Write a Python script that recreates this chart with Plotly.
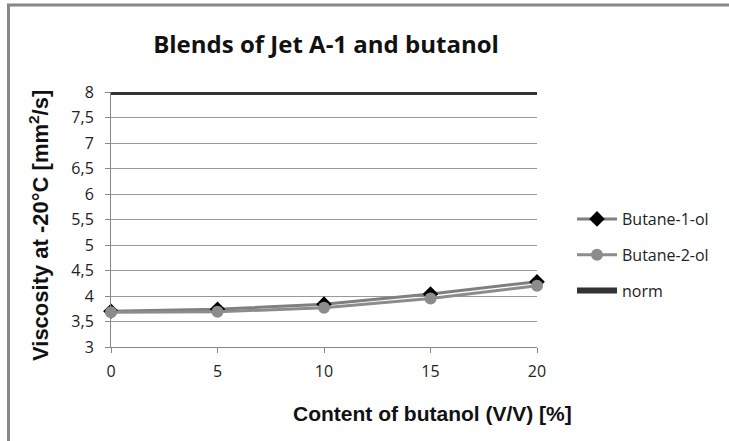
import plotly.graph_objects as go

content = [0, 5, 10, 15, 20]
butane_1_ol = [3.70, 3.74, 3.84, 4.04, 4.28]
butane_2_ol = [3.68, 3.69, 3.77, 3.95, 4.20]
norm = [8, 8, 8, 8, 8]
y_ticks = [3, 3.5, 4, 4.5, 5, 5.5, 6, 6.5, 7, 7.5, 8]
y_tick_labels = ["3", "3,5", "4", "4,5", "5", "5,5", "6", "6,5", "7", "7,5", "8"]

fig = go.Figure()
fig.add_trace(go.Scatter(
    x=content, y=butane_1_ol, name="Butane-1-ol", mode="lines+markers",
    line=dict(color="#7f7f7f", width=3),
    marker=dict(symbol="diamond", size=12, color="#000000"),
    legendgroup="a", cliponaxis=False))
fig.add_trace(go.Scatter(
    x=content, y=butane_2_ol, name="Butane-2-ol", mode="lines+markers",
    line=dict(color="#8c8c8c", width=3),
    marker=dict(symbol="circle", size=12, color="#8c8c8c"),
    legendgroup="b", cliponaxis=False))
fig.add_trace(go.Scatter(
    x=content, y=norm, name="norm", mode="lines",
    line=dict(color="#333333", width=6),
    legendgroup="c", cliponaxis=False))

L, R, T, B = 111, 537, 92, 347
W, H = R - L, B - T

def px(x):
    return (x - L) / W

def py(y):
    return (B - y) / H

fig.add_shape(type="rect", xref="paper", yref="paper",
              x0=px(8.5), x1=px(760), y0=py(5), y1=py(470),
              line=dict(color="#888888", width=3), layer="below")

fig.add_annotation(text="<b>Content of butanol (V/V) [%]</b>", xref="paper", yref="paper",
                   x=px(432), y=py(413), xanchor="center", yanchor="middle", showarrow=False,
                   font=dict(family="Liberation Sans", size=21, color="#111111"))
fig.add_annotation(text="<b>Viscosity at -20°C [mm<sup>2</sup>/s]</b>", xref="paper", yref="paper",
                   x=px(39), y=py(226), xanchor="center", yanchor="middle", showarrow=False,
                   textangle=-90,
                   font=dict(family="Liberation Sans", size=22, color="#111111"))

fig.update_layout(
    width=729, height=441,
    margin=dict(l=L, r=729 - R, t=T, b=441 - B, autoexpand=False),
    paper_bgcolor="white", plot_bgcolor="white",
    title=dict(text="<b>Blends of Jet A-1 and butanol</b>",
               font=dict(family="Open Sans", size=24, color="#111111"),
               x=326 / 729, xanchor="center", y=1 - 45 / 441, yanchor="middle"),
    font=dict(family="Open Sans", size=16, color="#222222"),
    showlegend=True,
    legend=dict(x=px(572), y=py(202), xanchor="left", yanchor="top",
                tracegroupgap=12, font=dict(family="Open Sans", size=16, color="#222222"),
                bgcolor="rgba(0,0,0,0)", itemwidth=40),
    xaxis=dict(range=[0, 20], tickvals=content, ticktext=[str(c) for c in content],
               showline=True, linecolor="#888888", linewidth=1,
               ticks="outside", ticklen=5, tickcolor="#888888",
               showgrid=False, zeroline=False, ticklabelstandoff=5,
               tickfont=dict(family="Open Sans", size=16, color="#222222")),
    yaxis=dict(range=[3, 8], tickvals=y_ticks, ticktext=y_tick_labels,
               showline=True, linecolor="#888888", linewidth=1,
               ticks="outside", ticklen=5, tickcolor="#888888",
               showgrid=True, gridcolor="#999999", gridwidth=1, zeroline=False,
               ticklabelstandoff=8,
               tickfont=dict(family="Open Sans", size=16, color="#222222")),
)

fig.write_html("out.html", config={"displayModeBar": False},
               post_script="document.body.style.margin='0px';")
